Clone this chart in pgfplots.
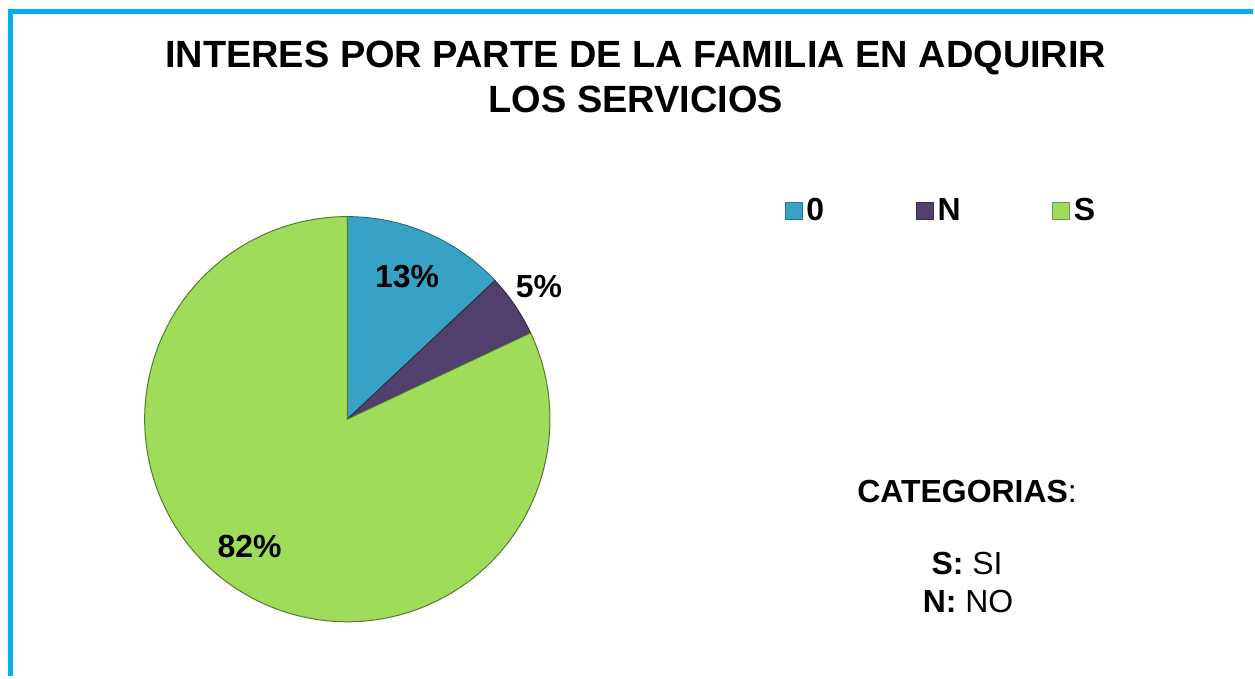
\documentclass[border=0pt]{standalone}
\usepackage{fontspec}
\setmainfont{Liberation Sans}
\usepackage{pgfplots}
\usepackage{pgfplotstable}
\pgfplotsset{compat=1.18}
\definecolor{cZero}{HTML}{38A2C5}
\definecolor{cN}{HTML}{51406E}
\definecolor{cS}{HTML}{9FDC5A}
\definecolor{frameblue}{HTML}{00B0F0}
\pgfplotstableread{
cat value
0 13
N 5
S 82
}\piedata
\begin{document}
\begin{tikzpicture}
\pgfplotstablegetelem{0}{value}\of\piedata \pgfmathtruncatemacro\vA{\pgfplotsretval}
\pgfplotstablegetelem{1}{value}\of\piedata \pgfmathtruncatemacro\vB{\pgfplotsretval}
\pgfplotstablegetelem{2}{value}\of\piedata \pgfmathtruncatemacro\vC{\pgfplotsretval}
\pgfmathsetmacro\aA{90-3.6*\vA}
\pgfmathsetmacro\aB{\aA-3.6*\vB}
\pgfmathsetmacro\aC{\aB-3.6*\vC}
\def\R{101.5pt}
\begin{axis}[
 width=627.5pt, height=338.5pt, scale only axis,
 xmin=0,xmax=1255,ymin=0,ymax=677, y dir=reverse,
 hide axis, xtick=\empty, ytick=\empty, clip=false,
 legend columns=3,
 legend cell align=left,
 legend style={at={(axis cs:786,211)}, anchor=west, draw=none, fill=none, inner sep=0pt,
   font=\fontsize{16}{18}\selectfont\bfseries,
   /tikz/every even column/.append style={column sep=44pt}},
 legend image code/.code={\fill[#1] (0pt,-4.25pt) rectangle (8.5pt,4.25pt);},
]
\addlegendimage{fill=cZero, draw=cZero!70!black, line width=0.3pt}
\addlegendentry{0}
\addlegendimage{fill=cN, draw=cN!70!black, line width=0.3pt}
\addlegendentry{N}
\addlegendimage{fill=cS, draw=cS!70!black, line width=0.3pt}
\addlegendentry{S}
% full picture extent
\path (axis cs:0,0) rectangle (axis cs:1255,677);
% frame
\draw[frameblue, line width=2.5pt] (axis cs:10.5,677) -- (axis cs:10.5,11.5) -- (axis cs:1255,11.5);
% pie
\fill[cZero, draw=cZero!60!black, line width=0.4pt] (axis cs:348,420) -- ++(90:\R) arc[start angle=90, end angle=\aA, radius=\R] -- cycle;
\fill[cN, draw=cN!60!black, line width=0.4pt] (axis cs:348,420) -- ++(\aA:\R) arc[start angle=\aA, end angle=\aB, radius=\R] -- cycle;
\fill[cS, draw=cS!55!black, line width=0.5pt] (axis cs:348,420) -- ++(\aB:\R) arc[start angle=\aB, end angle=\aC, radius=\R] -- cycle;
% labels
\node[anchor=base, font=\fontsize{16}{18}\selectfont\bfseries] at (axis cs:408,288) {\vA\%};
\node[anchor=base, font=\fontsize{16}{18}\selectfont\bfseries] at (axis cs:540,298) {\vB\%};
\node[anchor=base, font=\fontsize{16}{18}\selectfont\bfseries] at (axis cs:250,559) {\vC\%};
% title
\node[anchor=base, font=\fontsize{19}{23}\selectfont\bfseries] at (axis cs:637,68) {INTERES POR PARTE DE LA FAMILIA EN ADQUIRIR};
\node[anchor=base, font=\fontsize{19}{23}\selectfont\bfseries] at (axis cs:637,113) {LOS SERVICIOS};
% categories
\node[anchor=base, font=\fontsize{16}{18}\selectfont] at (axis cs:969,503) {\textbf{CATEGORIAS}:};
\node[anchor=base, font=\fontsize{16}{18}\selectfont] at (axis cs:969,576) {\textbf{S:} SI};
\node[anchor=base, font=\fontsize{16}{18}\selectfont] at (axis cs:970,614) {\textbf{N:} NO};
\end{axis}
\end{tikzpicture}
\end{document}
